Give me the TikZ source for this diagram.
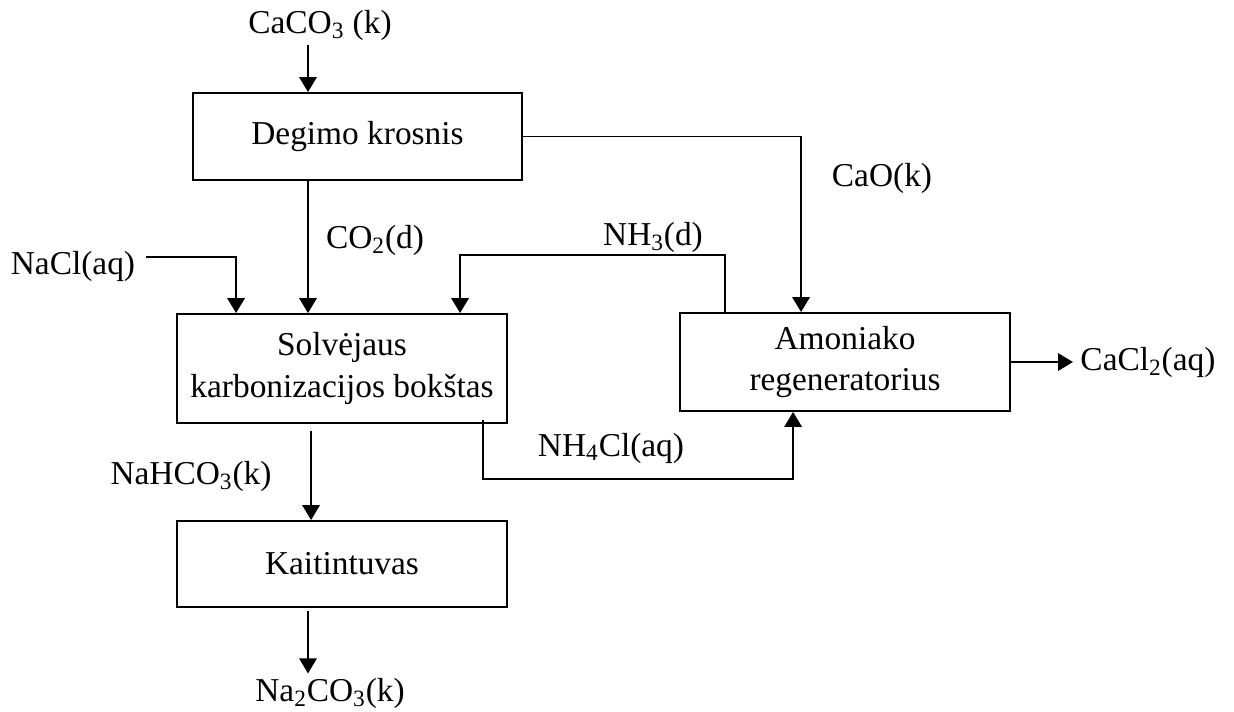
\documentclass[tikz,border=0pt]{standalone}
\usepackage{fontspec}
\setmainfont{Liberation Serif}
\usetikzlibrary{arrows.meta,calc}
\tikzset{
	box/.style={draw,line width=1.1pt,minimum width=6.6cm,align=center,inner sep=0pt},
	lbl/.style={inner sep=2pt}
}
\begin{document}
\fontsize{19}{23.5}\selectfont
\begin{tikzpicture}[x=0.02cm,y=-0.02cm,line width=1.1pt,>={Triangle[length=0.3cm,width=0.35cm]}]
	\useasboundingbox (0,0) rectangle (1234,711);
	\node[box,minimum width=6.58cm,minimum height=1.74cm] (deg) at (357.5,136.5) {Degimo krosnis};
	\node[box,minimum height=2.18cm] (sol) at (342,368.5) {Solvėjaus\\karbonizacijos bokštas};
	\node[box,minimum height=1.96cm] (amo) at (845,362) {Amoniako\\regeneratorius};
	\node[box,minimum height=1.72cm] (kai) at (342,564) {Kaitintuvas};

	\node[lbl] (caco3) at (320,25) {CaCO\textsubscript{3} (k)};
	\node[lbl] (nacl) at (73,266) {NaCl(aq)};
	\node[lbl] (co2) at (375,240) {CO\textsubscript{2}(d)};
	\node[lbl] (nh3) at (653,237) {NH\textsubscript{3}(d)};
	\node[lbl] (cao) at (882,178) {CaO(k)};
	\node[lbl,anchor=west] (cacl2) at (1076,362) {CaCl\textsubscript{2}(aq)};
	\node[lbl] (nh4cl) at (611,448) {NH\textsubscript{4}Cl(aq)};
	\node[lbl] (nahco3) at (191,476) {NaHCO\textsubscript{3}(k)};
	\node[lbl] (na2co3) at (330,693) {Na\textsubscript{2}CO\textsubscript{3}(k)};

	\coordinate (xa) at (308,0);
	\coordinate (yn) at (0,257);

	\draw[->] (caco3.south -| xa) -- (deg.north -| xa);
	\draw[->] (deg.south -| xa) -- (sol.north -| xa);
	\draw[->] ($(nacl.east |- yn)+(6,0)$) -| ($(sol.north west)+(60,0)$);
	\draw[->] ($(amo.north west)+(46,0)$) -- ++(0,-57) -| ($(sol.north west)+(284,0)$);
	\draw[->] (deg.east) -| ($(amo.north west)+(122,0)$);
	\draw[->] ($(sol.south west)+(307,-4)$) -- ++(0,59) -| ($(amo.south west)+(114,0)$);
	\draw[->] (amo.east) -- ($(cacl2.west |- amo.east)+(-3,0)$);
	\draw[->,shorten <=0.14cm] ($(sol.south west)+(135,0)$) -- ($(kai.north west)+(135,0)$);
	\draw[->,shorten <=0.06cm] (kai.south -| xa) -- (na2co3.north -| xa);
\end{tikzpicture}
\end{document}
